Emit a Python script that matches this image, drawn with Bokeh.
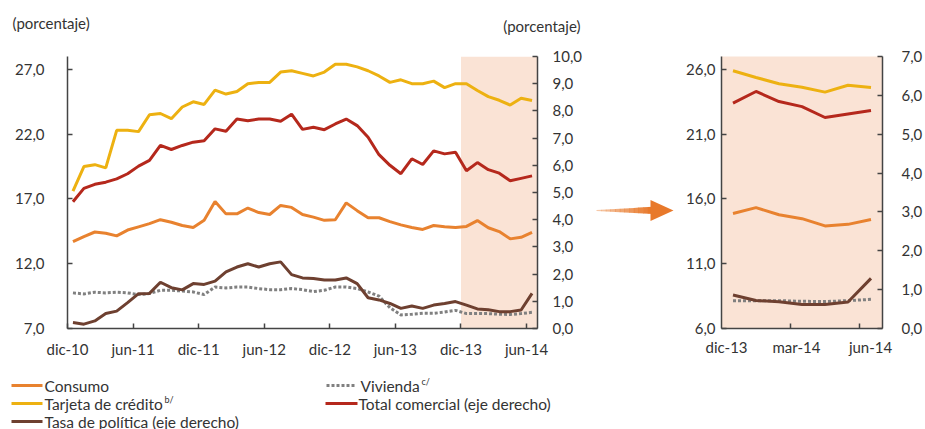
import numpy as np
from bokeh.plotting import figure
from bokeh.models import Range1d, LinearAxis, FixedTicker, BoxAnnotation
from bokeh.layouts import row, column
from bokeh.embed import file_html
from bokeh.resources import INLINE
from bokeh.core.properties import value

# ---------------- data (monthly, dic-10 .. jun-14) ----------------
consumo = [13.7, 14.1, 14.45, 14.35, 14.15, 14.6, 14.85, 15.1, 15.4, 15.2, 14.95, 14.8,
           15.35, 16.8, 15.85, 15.85, 16.3, 15.95, 15.8, 16.5, 16.35, 15.8, 15.6, 15.35,
           15.4, 16.7, 16.1, 15.55, 15.55, 15.25, 15.0, 14.8, 14.65, 14.95, 14.85, 14.8,
           14.88, 15.33, 14.78, 14.48, 13.92, 14.04, 14.42]
tarjeta = [17.6, 19.5, 19.65, 19.4, 22.3, 22.3, 22.2, 23.5, 23.6, 23.2, 24.1, 24.5,
           24.3, 25.4, 25.1, 25.3, 25.9, 26.0, 26.0, 26.8, 26.9, 26.7, 26.5, 26.8,
           27.4, 27.4, 27.2, 26.9, 26.5, 26.0, 26.2, 25.9, 25.9, 26.1, 25.6, 25.9,
           25.9, 25.38, 24.9, 24.62, 24.25, 24.78, 24.6]
vivienda = [9.75, 9.67, 9.8, 9.75, 9.8, 9.75, 9.62, 9.7, 9.95, 9.95, 9.9, 9.82,
            9.62, 10.2, 10.13, 10.2, 10.2, 10.08, 10.0, 10.0, 10.08, 10.0, 9.85, 9.95,
            10.2, 10.2, 10.08, 9.82, 9.5, 8.6, 8.05, 8.1, 8.17, 8.17, 8.27, 8.4,
            8.15, 8.15, 8.15, 8.1, 8.08, 8.15, 8.25]
comercial = [4.66, 5.15, 5.3, 5.38, 5.5, 5.69, 5.97, 6.18, 6.73, 6.58, 6.73, 6.85,
             6.9, 7.34, 7.25, 7.7, 7.64, 7.7, 7.7, 7.62, 7.88, 7.32, 7.4, 7.31,
             7.52, 7.7, 7.46, 7.03, 6.39, 6.0, 5.69, 6.24, 6.03, 6.53, 6.42, 6.48,
             5.8, 6.1, 5.84, 5.71, 5.43, 5.52, 5.61]
tasa = [0.22, 0.16, 0.28, 0.55, 0.64, 0.95, 1.28, 1.29, 1.7, 1.5, 1.42, 1.65,
        1.62, 1.74, 2.08, 2.26, 2.38, 2.26, 2.38, 2.45, 1.98, 1.86, 1.84, 1.78,
        1.78, 1.86, 1.65, 1.13, 1.05, 0.92, 0.74, 0.83, 0.74, 0.86, 0.92, 0.99,
        0.86, 0.72, 0.69, 0.62, 0.62, 0.68, 1.29]

left_xticks = [0, 6, 12, 18, 24, 30, 36, 42]
left_xlabels = ["dic-10", "jun-11", "dic-11", "jun-12", "dic-12", "jun-13", "dic-13", "jun-14"]
zoom_start = 36
right_xlabel_pos = [0.22, 3.26, 6.48]
right_xtick_marks = [3, 6]
right_xlabels = ["dic-13", "mar-14", "jun-14"]
left_yticks = [7, 12, 17, 22, 27]
left_rticks = list(range(0, 11))
right_yticks = [6, 11, 16, 21, 26]
right_rticks = list(range(0, 8))

unit_label = "(porcentaje)"
legend_labels = ["Consumo", "Tarjeta de crédito", "Tasa de política (eje derecho)",
                 "Vivienda", "Total comercial (eje derecho)"]
legend_notes = ["b/", "c/"]

# ---------------- styles ----------------
FONT = "Lato"
C_CONS = "#E8822F"
C_TARJ = "#EDB111"
C_COM = "#B5281C"
C_TASA = "#6E4030"
C_VIV = "#808080"
SHADE = "#FAE3D5"
AX = "#444444"
TXT = "#333333"
LW = 3
DOT = "3 2"


def fmt(v):
    return ("%.1f" % v).replace(".", ",")


def style_axis(ax, standoff):
    ax.axis_line_color = AX
    ax.axis_line_width = 1.5
    ax.major_tick_line_color = AX
    ax.major_tick_line_width = 1.5
    ax.major_tick_in = 5
    ax.major_tick_out = 0
    ax.minor_tick_line_color = None
    ax.major_label_text_font = FONT
    ax.major_label_text_font_size = "15px"
    ax.major_label_text_color = TXT
    ax.major_label_standoff = standoff


def base_fig(**kw):
    p = figure(toolbar_location=None, output_backend="svg",
               x_axis_location=None, y_axis_location=None,
               outline_line_color=None, border_fill_color="white", **kw)
    p.xgrid.visible = False
    p.ygrid.visible = False
    return p


def flat_fig(w, h, x0, x1, y_top, y_bot):
    p = base_fig(width=w, height=h, x_range=Range1d(x0, x1), y_range=Range1d(y_bot, y_top),
                 min_border=0)
    p.min_border_left = p.min_border_right = p.min_border_top = p.min_border_bottom = 0
    return p


n = len(consumo)
x_all = np.arange(n) + 0.5

# ---------------- top strip with unit labels ----------------
pt = flat_fig(925, 40, 0, 925, 0, 40)
pt.text(x=[12], y=[22.5], text=[unit_label], text_font=value(FONT), text_font_size="15px",
        text_color=TXT, text_baseline="middle", text_align="left")
pt.text(x=[580], y=[25], text=[unit_label], text_font=value(FONT), text_font_size="15px",
        text_color=TXT, text_baseline="middle", text_align="right")

# ---------------- left chart ----------------
p1 = base_fig(width=590, height=330, x_range=Range1d(0, 43), y_range=Range1d(7, 28),
              min_border_left=67, min_border_right=53, min_border_top=16, min_border_bottom=39)
p1.extra_y_ranges = {"r": Range1d(0, 10)}

p1.add_layout(BoxAnnotation(left=zoom_start, right=43, fill_color=SHADE, fill_alpha=1,
                            line_color=None, level="underlay"))

xb = LinearAxis(ticker=FixedTicker(ticks=left_xticks),
                major_label_overrides={t: l for t, l in zip(left_xticks, left_xlabels)})
style_axis(xb, 11)
p1.add_layout(xb, "below")
yl = LinearAxis(ticker=FixedTicker(ticks=left_yticks),
                major_label_overrides={t: fmt(t) for t in left_yticks})
style_axis(yl, 23)
p1.add_layout(yl, "left")
yr = LinearAxis(y_range_name="r", ticker=FixedTicker(ticks=left_rticks),
                major_label_overrides={t: fmt(t) for t in left_rticks})
style_axis(yr, 15)
p1.add_layout(yr, "right")

p1.line(x_all, consumo, line_color=C_CONS, line_width=LW)
p1.line(x_all, vivienda, line_color=C_VIV, line_width=LW, line_dash=DOT)
p1.line(x_all, tarjeta, line_color=C_TARJ, line_width=LW)
p1.line(x_all, tasa, line_color=C_TASA, line_width=LW, y_range_name="r")
p1.line(x_all, comercial, line_color=C_COM, line_width=LW, y_range_name="r")

# ---------------- arrow (middle) ----------------
pm = flat_fig(90, 330, 590, 680, 40, 370)
tail_x, neck_x, tip_x, cy = 596.0, 652.0, 673.0, 226.8
steps = 12
xs, ys, alphas = [], [], []
for k in range(steps):
    a0 = tail_x + (neck_x - tail_x) * k / steps
    a1 = tail_x + (neck_x - tail_x) * (k + 1) / steps
    h0 = 0.6 + 3.8 * k / steps
    h1 = 0.6 + 3.8 * (k + 1) / steps
    xs.append([a0, a1 + 0.5, a1 + 0.5, a0])
    ys.append([cy - h0, cy - h1, cy + h1, cy + h0])
    alphas.append(0.35 + 0.65 * (k + 1) / steps)
pm.patches(xs, ys, fill_color="#E8792B", fill_alpha=alphas, line_color=None)
pm.patch([neck_x - 2, tip_x, neck_x - 2], [cy - 12.8, cy, cy + 12.8],
         fill_color="#E8792B", line_color=None)

# ---------------- right chart ----------------
m = n - zoom_start
x_z = np.arange(m) + 0.5
p2 = base_fig(width=245, height=330, x_range=Range1d(0, 7), y_range=Range1d(6, 27),
              min_border_left=41, min_border_right=43, min_border_top=16, min_border_bottom=42,
              background_fill_color=SHADE)
p2.extra_y_ranges = {"r": Range1d(0, 7)}
xb2 = LinearAxis(ticker=FixedTicker(ticks=right_xlabel_pos, minor_ticks=right_xtick_marks),
                 major_label_overrides={t: l for t, l in zip(right_xlabel_pos, right_xlabels)})
style_axis(xb2, 9)
xb2.major_tick_line_color = None
xb2.minor_tick_line_color = AX
xb2.minor_tick_line_width = 1.5
xb2.minor_tick_in = 5
xb2.minor_tick_out = 0
p2.add_layout(xb2, "below")
yl2 = LinearAxis(ticker=FixedTicker(ticks=right_yticks),
                 major_label_overrides={t: fmt(t) for t in right_yticks})
style_axis(yl2, 6)
p2.add_layout(yl2, "left")
yr2 = LinearAxis(y_range_name="r", ticker=FixedTicker(ticks=right_rticks),
                 major_label_overrides={t: fmt(t) for t in right_rticks})
style_axis(yr2, 19)
p2.add_layout(yr2, "right")

p2.line(x_z, consumo[zoom_start:], line_color=C_CONS, line_width=LW)
p2.line(x_z, vivienda[zoom_start:], line_color=C_VIV, line_width=LW, line_dash=DOT)
p2.line(x_z, tarjeta[zoom_start:], line_color=C_TARJ, line_width=LW)
p2.line(x_z, tasa[zoom_start:], line_color=C_TASA, line_width=LW, y_range_name="r")
p2.line(x_z, comercial[zoom_start:], line_color=C_COM, line_width=LW, y_range_name="r")

# ---------------- legend ----------------
pl = flat_fig(590, 59, 0, 590, 370, 429)
leg_colors = [C_CONS, C_TARJ, C_TASA, C_VIV, C_COM]
leg_dash = ["solid", "solid", "solid", DOT, "solid"]
leg_x0 = [11, 11, 11, 326, 325]
leg_x1 = [42, 42, 42, 355, 357]
leg_tx = [44, 44, 44, 360, 358]
leg_y = [385, 403, 421, 385, 403]
for i in range(len(legend_labels)):
    pl.line([leg_x0[i], leg_x1[i]], [leg_y[i], leg_y[i]], line_color=leg_colors[i],
            line_width=LW, line_dash=leg_dash[i])
pl.text(x=leg_tx, y=leg_y, text=legend_labels, text_font=value(FONT),
        text_font_size="15.5px", text_color=TXT, text_baseline="middle", text_align="left")
pl.text(x=[164, 421], y=[398.5, 380.5], text=legend_notes, text_font=value(FONT),
        text_font_size="9px", text_color=TXT, text_baseline="middle", text_align="left")

layout = column(pt, row(p1, pm, p2), pl)
open("out.html", "w").write(file_html(layout, INLINE))
